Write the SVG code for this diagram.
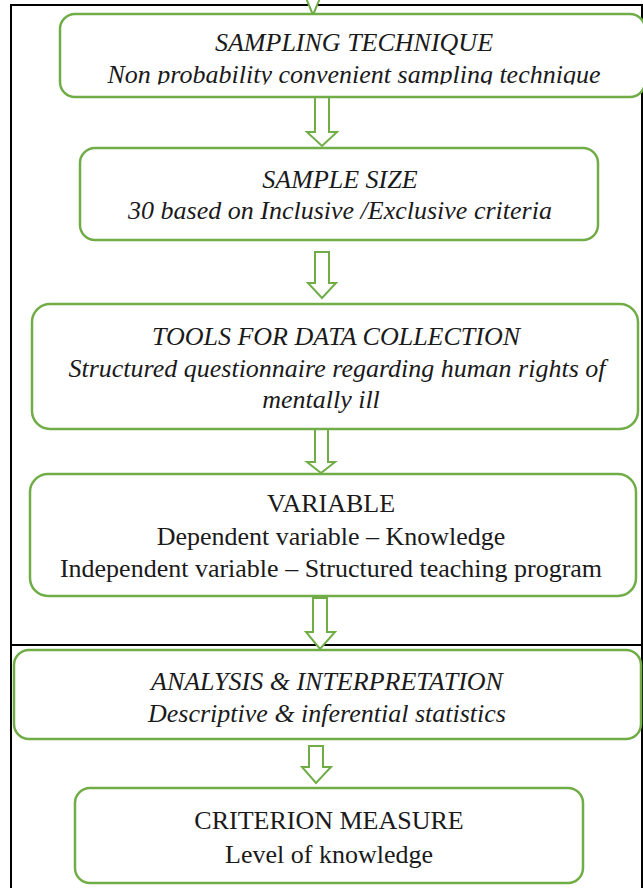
<svg xmlns="http://www.w3.org/2000/svg" width="643" height="888" viewBox="0 0 643 888">
<style>
.box{fill:#fff;stroke:#70AD47;stroke-width:2.5}
.arr{fill:#fff;stroke:#70AD47;stroke-width:2}
.frame{stroke:#000;stroke-width:2;fill:none}
</style>
<defs>
<clipPath id="c1"><rect x="0" y="0" width="643" height="84.5"/></clipPath>
</defs>
<rect width="643" height="888" fill="#fff"/>
<g id="frame">
<line class="frame" x1="11" y1="5" x2="11" y2="888"/>
<line class="frame" x1="10" y1="5" x2="643" y2="5"/>
<line class="frame" x1="642" y1="5" x2="642" y2="888"/>
<line class="frame" x1="10" y1="645" x2="643" y2="645" stroke-width="2.5"/>
</g>
<g id="connectors">
<polygon class="arr" points="306,-2 320,-2 313,15"/>
<polygon class="arr" points="315,97 329,97 329,132 337,132 322,146 307,132 315,132"/>
<polygon class="arr" points="315,252 329,252 329,283 336,283 322,298 308,283 315,283"/>
<polygon class="arr" points="315,428 328,428 328,462 335,462 321,473 307,462 315,462"/>
<polygon class="arr" points="313,598 327,598 327,632 335,632 320,649 306,632 313,632"/>
<polygon class="arr" points="309,746 323,746 323,767 331,767 316,783 302,767 309,767"/>
</g>
<g font-family="'Liberation Serif', 'DejaVu Serif', serif" font-size="26" fill="#1a1a1a" text-anchor="middle">
<g id="n1">
<rect class="box" x="60" y="14" width="585" height="83" rx="15"/>
<text font-style="italic" x="354" y="51">SAMPLING TECHNIQUE</text>
<text font-style="italic" x="354" y="83" clip-path="url(#c1)">Non probability convenient sampling technique</text>
</g>
<g id="n2">
<rect class="box" x="80" y="148" width="518" height="92" rx="15"/>
<text font-style="italic" x="340" y="188">SAMPLE SIZE</text>
<text font-style="italic" x="340" y="219">30 based on Inclusive /Exclusive criteria</text>
</g>
<g id="n3">
<rect class="box" x="32" y="304" width="606" height="125" rx="18"/>
<text font-style="italic" x="336" y="345">TOOLS FOR DATA COLLECTION</text>
<text font-style="italic" x="337" y="377">Structured questionnaire regarding human rights of</text>
<text font-style="italic" x="321" y="408">mentally ill</text>
</g>
<g id="n4">
<rect class="box" x="30" y="474" width="606" height="122" rx="18"/>
<text x="331" y="512">VARIABLE</text>
<text x="331" y="545">Dependent variable – Knowledge</text>
<text x="331" y="577">Independent variable – Structured teaching program</text>
</g>
<g id="n5">
<rect class="box" x="14" y="650" width="627" height="89" rx="15"/>
<text font-style="italic" x="327" y="690">ANALYSIS &amp; INTERPRETATION</text>
<text font-style="italic" x="327" y="722">Descriptive &amp; inferential statistics</text>
</g>
<g id="n6">
<rect class="box" x="75" y="788" width="508" height="95" rx="15"/>
<text x="329" y="829">CRITERION MEASURE</text>
<text x="329" y="863">Level of knowledge</text>
</g>
</g>
</svg>
